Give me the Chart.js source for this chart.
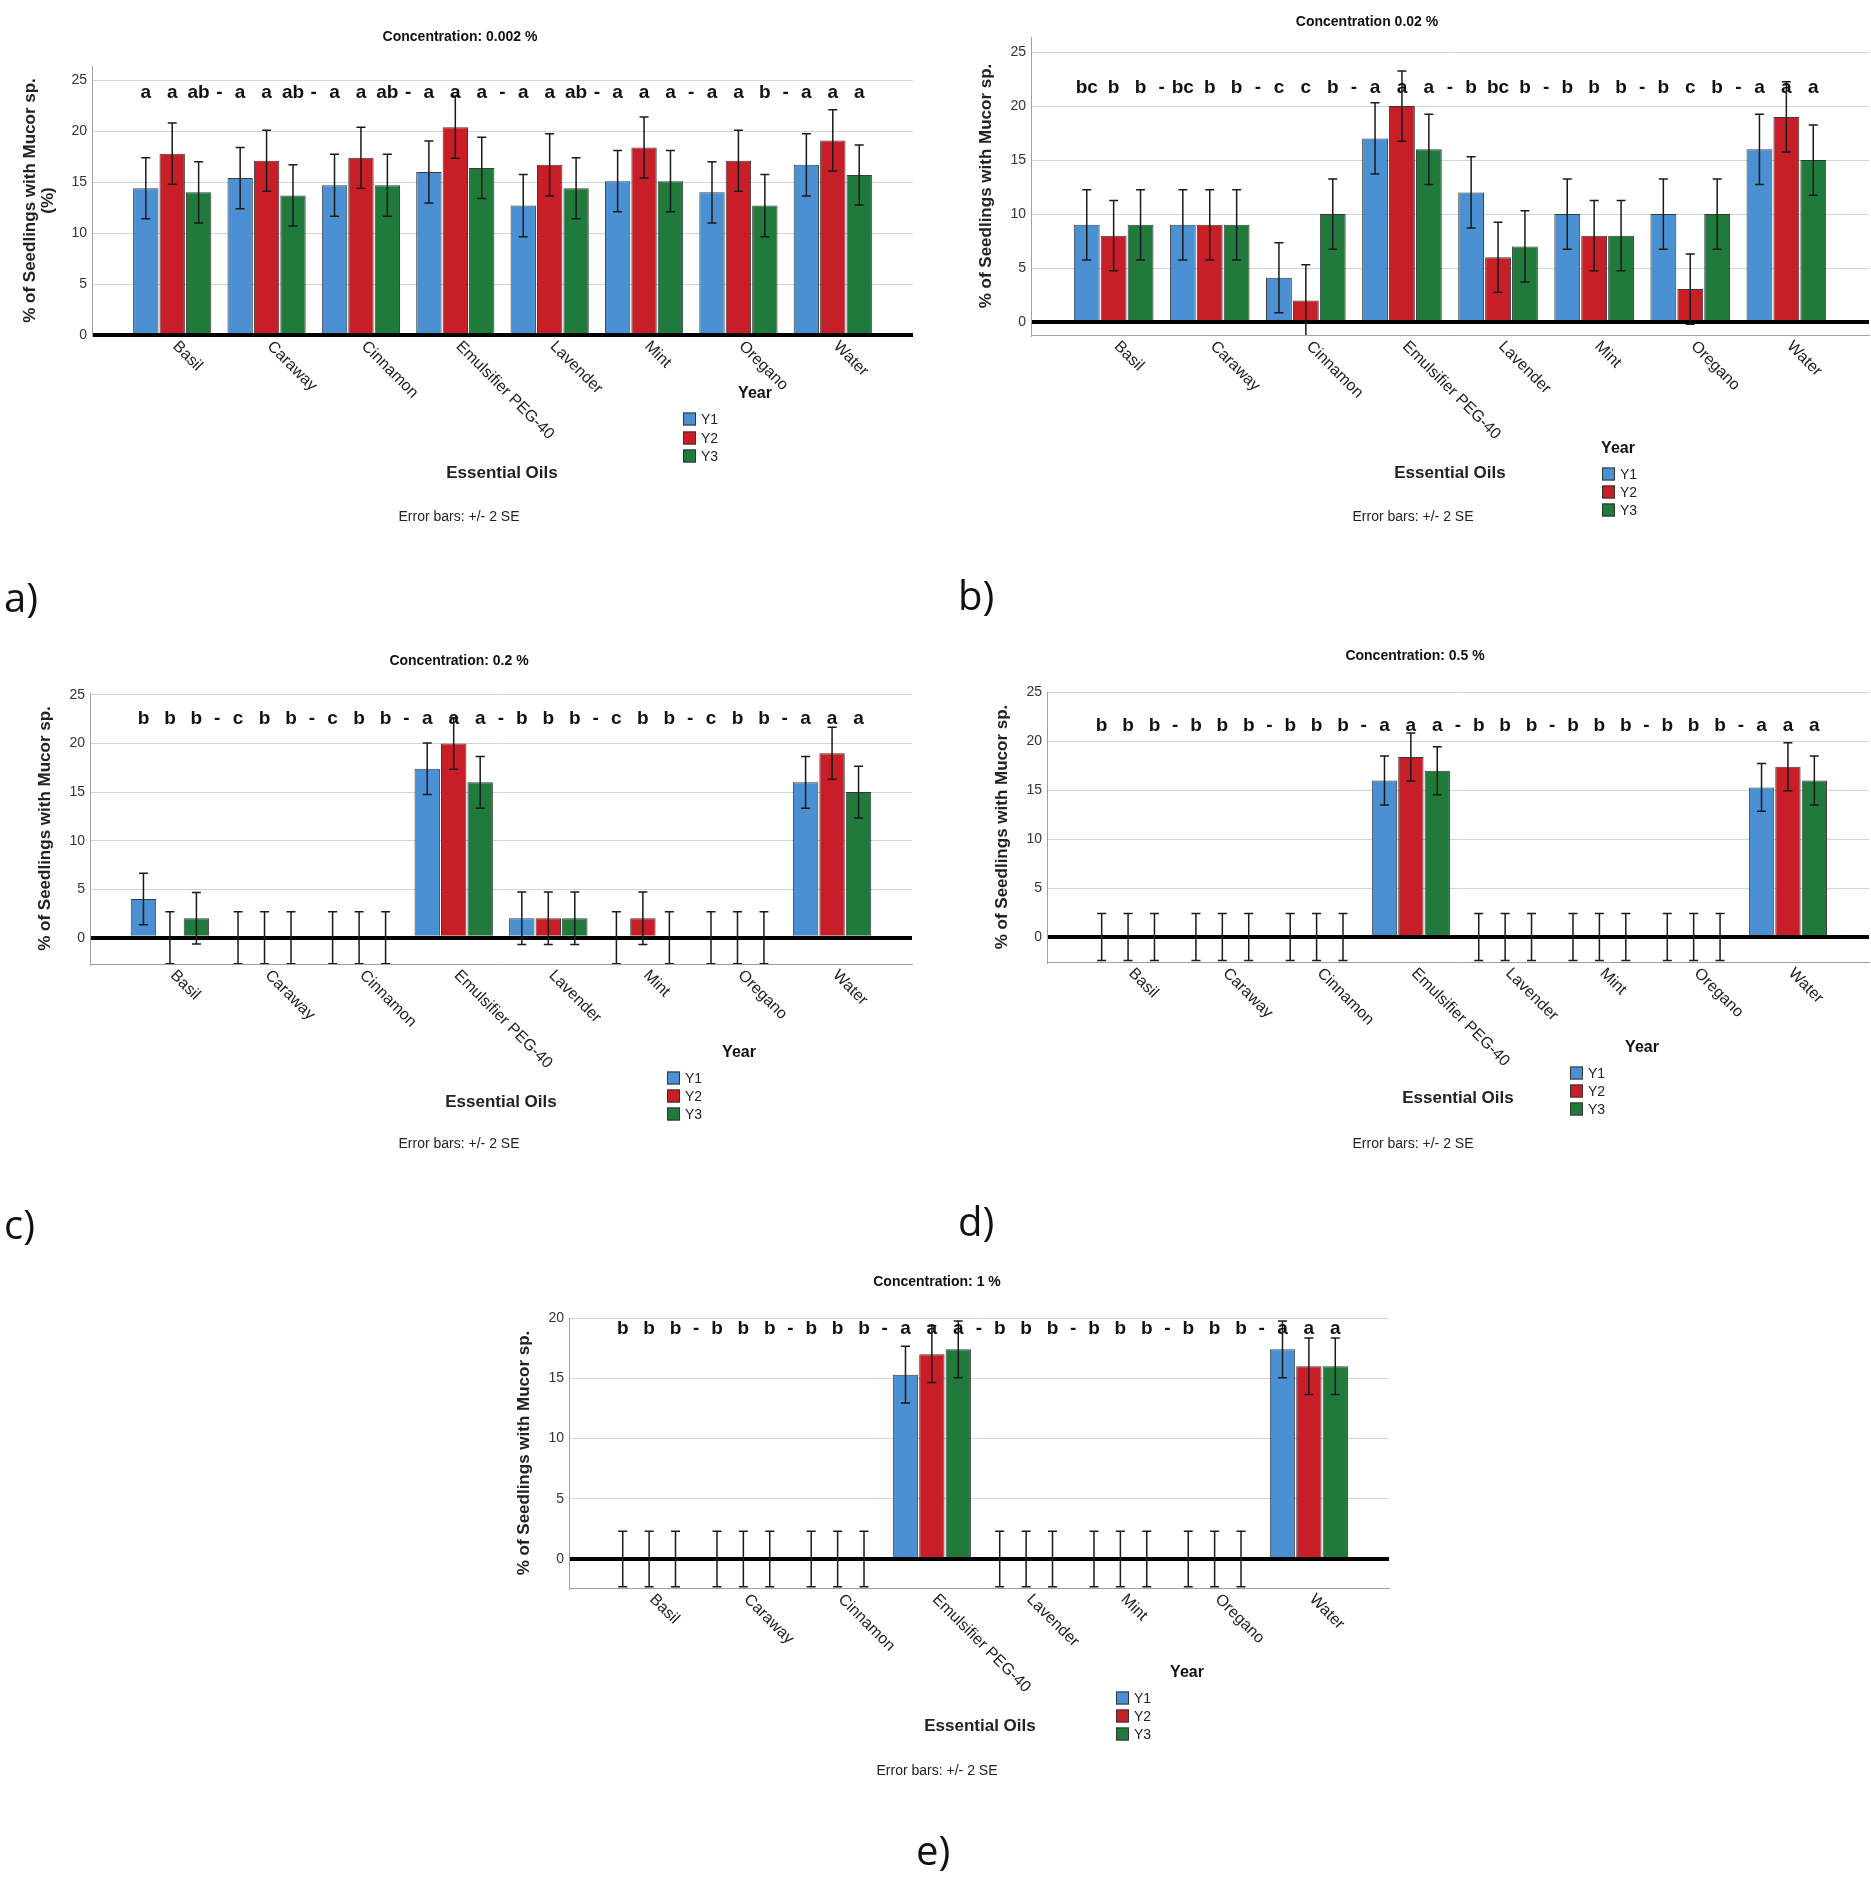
<!DOCTYPE html>
<html>
<head>
<meta charset="utf-8">
<script src="https://cdn.jsdelivr.net/npm/chart.js@4.4.1/dist/chart.umd.min.js"></script>
<style>
html, body { margin: 0; padding: 0; background: #fff; }
#page { position: relative; width: 1871px; height: 1878px; overflow: hidden; background: #fff; }
#page canvas { position: absolute; left: 0; top: 0; }
</style>
</head>
<body>
<div id="page"></div>
<script>
// categories and series
const categories = ['Basil', 'Caraway', 'Cinnamon', 'Emulsifier PEG-40', 'Lavender', 'Mint', 'Oregano', 'Water'];
const years = ['Y1', 'Y2', 'Y3'];
const yTicks = [0, 5, 10, 15, 20, 25];

// a) Concentration 0.002 %
const a_y1 = [14.4, 15.4, 14.7, 16.0, 12.7, 15.1, 14.0, 16.7];
const a_y2 = [17.8, 17.1, 17.4, 20.4, 16.7, 18.4, 17.1, 19.1];
const a_y3 = [14.0, 13.7, 14.7, 16.4, 14.4, 15.1, 12.7, 15.7];
const a_err1 = [3.0, 3.0, 3.05, 3.05, 3.05, 3.0, 3.0, 3.05];
const a_err2 = [3.0, 3.0, 3.0, 3.05, 3.05, 3.0, 3.0, 3.0];
const a_err3 = [3.0, 3.0, 3.05, 3.0, 3.0, 3.0, 3.05, 2.95];
const a_letters = ['a a ab', 'a a ab', 'a a ab', 'a a a', 'a a ab', 'a a a', 'a a b', 'a a a'];

// b) Concentration 0.02 %
const b_y1 = [9.0, 9.0, 4.1, 17.0, 12.0, 10.0, 10.0, 16.0];
const b_y2 = [8.0, 9.0, 2.0, 20.0, 6.0, 8.0, 3.05, 19.0];
const b_y3 = [9.0, 9.0, 10.0, 16.0, 7.0, 8.0, 10.0, 15.0];
const b_err1 = [3.25, 3.25, 3.25, 3.3, 3.3, 3.25, 3.25, 3.25];
const b_err2 = [3.25, 3.25, 3.3, 3.25, 3.25, 3.25, 3.25, 3.25];
const b_err3 = [3.25, 3.25, 3.25, 3.25, 3.3, 3.25, 3.25, 3.25];
const b_letters = ['bc b b', 'bc b b', 'c c b', 'a a a', 'b bc b', 'b b b', 'b c b', 'a a a'];

// c) Concentration 0.2 %
const c_y1 = [4.0, 0, 0, 17.4, 2.0, 0, 0, 16.0];
const c_y2 = [0, 0, 0, 20.0, 2.0, 2.0, 0, 19.0];
const c_y3 = [2.0, 0, 0, 16.0, 2.0, 0, 0, 15.0];
const c_err1 = [2.65, 2.67, 2.67, 2.65, 2.7, 2.67, 2.67, 2.67];
const c_err2 = [2.67, 2.67, 2.67, 2.65, 2.7, 2.7, 2.67, 2.67];
const c_err3 = [2.65, 2.67, 2.67, 2.67, 2.7, 2.67, 2.67, 2.67];
const c_letters = ['b b b', 'c b b', 'c b b', 'a a a', 'b b b', 'c b b', 'c b b', 'a a a'];

// d) Concentration 0.5 %
const d_y1 = [0, 0, 0, 16.0, 0, 0, 0, 15.3];
const d_y2 = [0, 0, 0, 18.4, 0, 0, 0, 17.4];
const d_y3 = [0, 0, 0, 17.0, 0, 0, 0, 16.0];
const d_err1 = [2.4, 2.4, 2.4, 2.5, 2.4, 2.4, 2.4, 2.45];
const d_err2 = [2.4, 2.4, 2.4, 2.45, 2.4, 2.4, 2.4, 2.45];
const d_err3 = [2.4, 2.4, 2.4, 2.45, 2.4, 2.4, 2.4, 2.5];
const d_letters = ['b b b', 'b b b', 'b b b', 'a a a', 'b b b', 'b b b', 'b b b', 'a a a'];

// e) Concentration 1 %
const e_y1 = [0, 0, 0, 15.3, 0, 0, 0, 17.4];
const e_y2 = [0, 0, 0, 17.0, 0, 0, 0, 16.0];
const e_y3 = [0, 0, 0, 17.4, 0, 0, 0, 16.0];
const e_err1 = [2.3, 2.3, 2.3, 2.35, 2.3, 2.3, 2.3, 2.35];
const e_err2 = [2.3, 2.3, 2.3, 2.35, 2.3, 2.3, 2.3, 2.35];
const e_err3 = [2.3, 2.3, 2.3, 2.35, 2.3, 2.3, 2.3, 2.35];
const e_letters = ['b b b', 'b b b', 'b b b', 'a a a', 'b b b', 'b b b', 'b b b', 'a a a'];

const COLORS = ['#4a90d2', '#c81e27', '#1f7a3c'];
const FONT = '"Liberation Sans", Arial, sans-serif';
const W = 1871, H = 1878, YW = 30;

// page layout of the five panels
const panels = [
  { title: 'Concentration: 0.002 %', values: [a_y1, a_y2, a_y3], errors: [a_err1, a_err2, a_err3], letters: a_letters,
    min: 0, max: 26.4, area: { l: 92, r: 913, t: 66, b: 335 }, pad: 0.35, letterY: 23.8,
    titlePos: [460, 37], yTitle: ['% of Seedlings with Mucor sp.', '(%)'], yTitleX: [30, 48],
    yearPos: [755, 394], legendX: 683, legendY: [419, 438, 456], xTitlePos: [502, 473], notePos: [459, 517], tag: ['a)', 4, 601] },
  { title: 'Concentration 0.02 %', values: [b_y1, b_y2, b_y3], errors: [b_err1, b_err2, b_err3], letters: b_letters,
    min: -1.2, max: 26.4, area: { l: 1031, r: 1869, t: 37, b: 335 }, pad: 0.36, letterY: 21.7,
    titlePos: [1367, 22], yTitle: ['% of Seedlings with Mucor sp.'], yTitleX: [986],
    yearPos: [1618, 449], legendX: 1602, legendY: [474, 492, 510], xTitlePos: [1450, 473], notePos: [1413, 517], tag: ['b)', 958, 599] },
  { title: 'Concentration: 0.2 %', values: [c_y1, c_y2, c_y3], errors: [c_err1, c_err2, c_err3], letters: c_letters,
    min: -2.7, max: 25.2, area: { l: 90, r: 912, t: 693, b: 964 }, pad: 0.345, letterY: 22.5,
    titlePos: [459, 661], yTitle: ['% of Seedlings with Mucor sp.'], yTitleX: [45],
    yearPos: [739, 1053], legendX: 667, legendY: [1078, 1096, 1114], xTitlePos: [501, 1102], notePos: [459, 1144], tag: ['c)', 4, 1228] },
  { title: 'Concentration: 0.5 %', values: [d_y1, d_y2, d_y3], errors: [d_err1, d_err2, d_err3], letters: d_letters,
    min: -2.55, max: 25.05, area: { l: 1047, r: 1869, t: 692, b: 962 }, pad: 0.36, letterY: 21.6,
    titlePos: [1415, 656], yTitle: ['% of Seedlings with Mucor sp.'], yTitleX: [1002],
    yearPos: [1642, 1048], legendX: 1570, legendY: [1073, 1091, 1109], xTitlePos: [1458, 1098], notePos: [1413, 1144], tag: ['d)', 958, 1225] },
  { title: 'Concentration: 1 %', values: [e_y1, e_y2, e_y3], errors: [e_err1, e_err2, e_err3], letters: e_letters,
    min: -2.4, max: 20, area: { l: 569, r: 1389, t: 1318, b: 1588 }, pad: 0.35, letterY: 19.1,
    titlePos: [937, 1282], yTitle: ['% of Seedlings with Mucor sp.'], yTitleX: [524],
    yearPos: [1187, 1673], legendX: 1116, legendY: [1698, 1716, 1734], xTitlePos: [980, 1726], notePos: [937, 1771], tag: ['e)', 916, 1854] }
];

// +/- 2 SE error bars, clipped to the plot
const errorBars = {
  id: 'errorBars',
  afterDatasetsDraw(chart) {
    const { ctx, chartArea: a } = chart;
    const y = chart.scales.y;
    ctx.save();
    ctx.beginPath();
    ctx.rect(a.left, a.top, a.right - a.left, a.bottom - a.top);
    ctx.clip();
    ctx.strokeStyle = '#1a1a1a';
    ctx.lineWidth = 1.5;
    chart.data.datasets.forEach((ds, i) => {
      chart.getDatasetMeta(i).data.forEach((bar, j) => {
        const v = ds.data[j], e = ds.err[j];
        const top = y.getPixelForValue(v + e), bot = y.getPixelForValue(v - e);
        ctx.beginPath();
        ctx.moveTo(bar.x, top); ctx.lineTo(bar.x, bot);
        ctx.moveTo(bar.x - 4.5, top); ctx.lineTo(bar.x + 4.5, top);
        ctx.moveTo(bar.x - 4.5, bot); ctx.lineTo(bar.x + 4.5, bot);
        ctx.stroke();
      });
    });
    ctx.restore();
  }
};

function text(ctx, s, x, y, font, align, color) {
  ctx.font = font;
  ctx.textAlign = align || 'center';
  ctx.textBaseline = 'middle';
  ctx.fillStyle = color || '#111';
  ctx.fillText(s, x, y);
}

// titles, letters, rotated category labels, legend and notes
const decor = {
  id: 'decor',
  afterDraw(chart) {
    const p = chart.options.plugins.decor.panel;
    const { ctx, chartArea: a } = chart;
    const x = chart.scales.x, y = chart.scales.y;
    ctx.save();

    text(ctx, p.title, p.titlePos[0], p.titlePos[1], 'bold 14px ' + FONT);

    // y axis title
    const cy = (a.top + a.bottom) / 2;
    p.yTitle.forEach((s, k) => {
      ctx.save();
      ctx.translate(p.yTitleX[k], cy);
      ctx.rotate(-Math.PI / 2);
      text(ctx, s, 0, 0, 'bold 17px ' + FONT, 'center', '#222');
      ctx.restore();
    });

    // significance letters above each bar, dashes between groups
    const metas = [0, 1, 2].map(i => chart.getDatasetMeta(i));
    const ly = y.getPixelForValue(p.letterY);
    p.letters.forEach((g, i) => {
      g.split(' ').forEach((l, j) => text(ctx, l, metas[j].data[i].x, ly, 'bold 19px ' + FONT));
      if (i < p.letters.length - 1) {
        const dx = (metas[2].data[i].x + metas[0].data[i + 1].x) / 2;
        text(ctx, '-', dx, ly, 'bold 19px ' + FONT);
      }
    });

    // rotated category labels
    categories.forEach((c, i) => {
      const px = x.getPixelForValue(i);
      ctx.save();
      ctx.translate(px + 3, a.bottom + 9);
      ctx.rotate(Math.PI / 4);
      text(ctx, c, 0, 0, '16px ' + FONT, 'left', '#222');
      ctx.restore();
    });

    // legend
    text(ctx, 'Year', p.yearPos[0], p.yearPos[1], 'bold 16px ' + FONT);
    years.forEach((yr, i) => {
      const ty = p.legendY[i];
      ctx.fillStyle = COLORS[i];
      ctx.fillRect(p.legendX, ty - 6.5, 13, 13);
      ctx.strokeStyle = '#333';
      ctx.lineWidth = 1;
      ctx.strokeRect(p.legendX + 0.5, ty - 6, 12, 12);
      text(ctx, yr, p.legendX + 18, ty + 1, '14px ' + FONT, 'left', '#222');
    });

    text(ctx, 'Essential Oils', p.xTitlePos[0], p.xTitlePos[1], 'bold 17px ' + FONT, 'center', '#222');
    text(ctx, 'Error bars: +/- 2 SE', p.notePos[0], p.notePos[1], '14px ' + FONT, 'center', '#222');
    text(ctx, p.tag[0], p.tag[1], p.tag[2], '40px "Open Sans", ' + FONT, 'left', '#111');
    ctx.restore();
  }
};

function makeChart(p) {
  const canvas = document.createElement('canvas');
  canvas.width = W;
  canvas.height = H;
  document.getElementById('page').appendChild(canvas);
  return new Chart(canvas, {
    type: 'bar',
    data: {
      labels: categories,
      datasets: years.map((yr, i) => ({
        label: yr,
        data: p.values[i],
        err: p.errors[i],
        backgroundColor: COLORS[i],
        borderColor: 'rgba(25,25,25,0.85)',
        borderWidth: 1,
        categoryPercentage: 0.84,
        barPercentage: 0.96
      }))
    },
    options: {
      responsive: false,
      animation: false,
      devicePixelRatio: 1,
      events: [],
      layout: { padding: { left: p.area.l - YW, right: W - p.area.r, top: p.area.t, bottom: H - p.area.b } },
      plugins: {
        legend: { display: false },
        title: { display: false },
        tooltip: { enabled: false },
        decor: { panel: p }
      },
      scales: {
        x: {
          offset: true,
          grid: { display: false },
          ticks: { display: false },
          border: { display: p.min < 0, color: '#a0a0a0', width: 1 },
          afterFit: s => { s.height = 0; },
          // leave the empty margin SPSS puts between the axis and the first/last group
          afterBuildTicks: s => { s._startValue -= p.pad; s._valueRange += 2 * p.pad; }
        },
        y: {
          min: p.min,
          max: p.max,
          ticks: { padding: 5, color: '#333', font: { family: FONT, size: 14 } },
          afterBuildTicks: s => { s.ticks = yTicks.filter(v => v <= s.max + 1e-6).map(v => ({ value: v })); },
          afterFit: s => { s.width = YW; },
          grid: {
            drawTicks: false,
            color: c => (c.tick && c.tick.value === 0 ? '#000' : '#d4d4d4'),
            lineWidth: c => (c.tick && c.tick.value === 0 ? 4 : 1)
          },
          border: { color: '#a0a0a0', width: 1 }
        }
      }
    },
    plugins: [errorBars, decor]
  });
}

panels.forEach(makeChart);
</script>
</body>
</html>
